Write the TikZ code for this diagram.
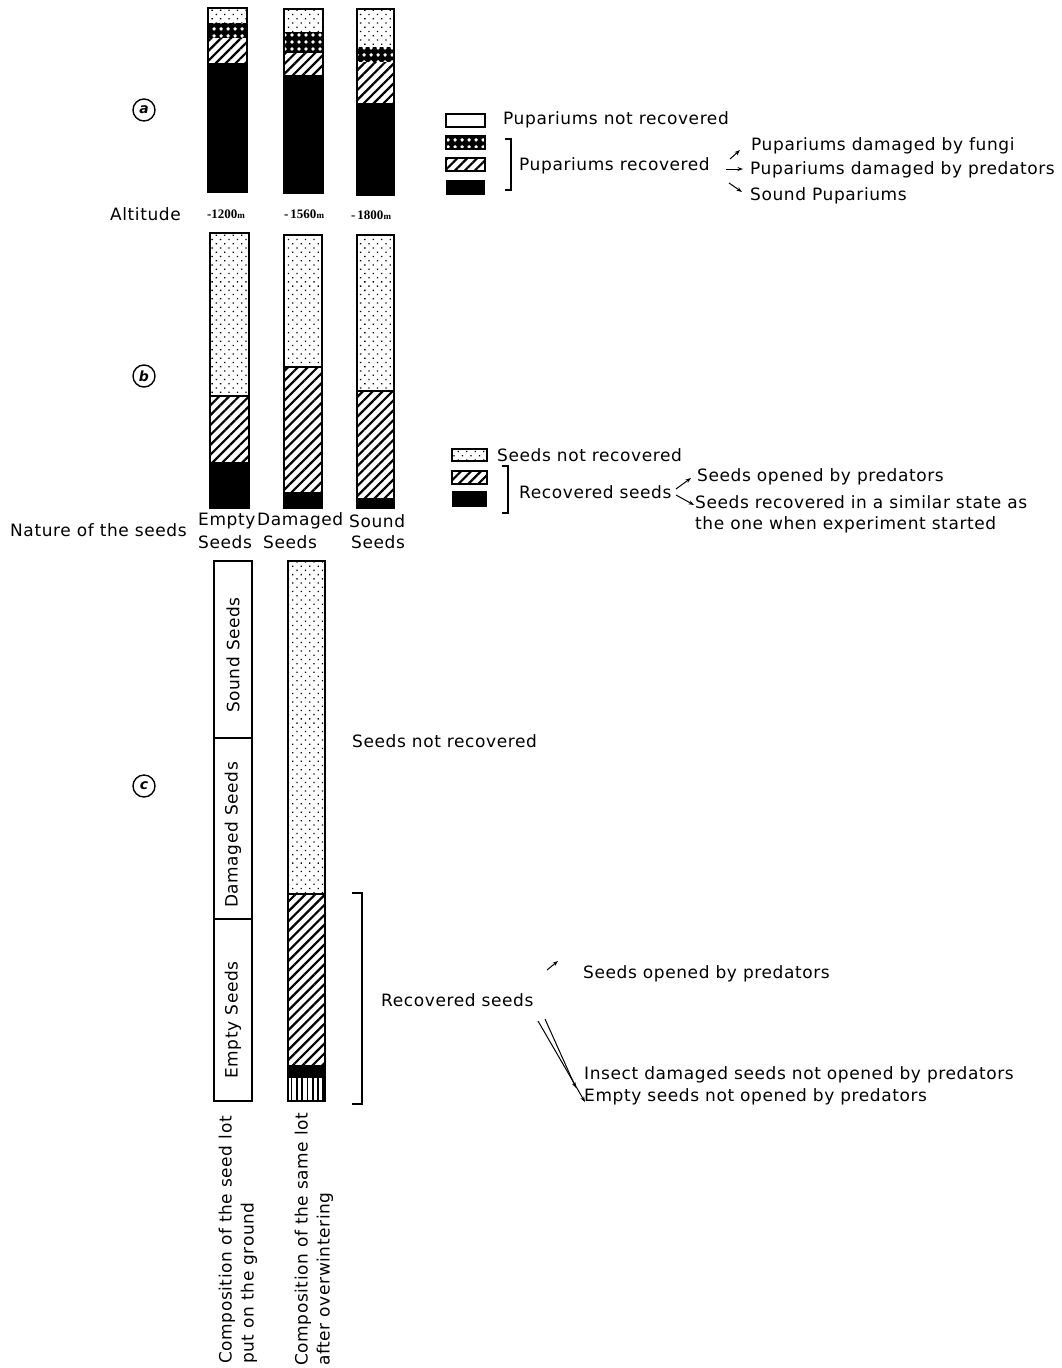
\documentclass[tikz,border=0pt]{standalone}
\usepackage{fontspec}
\setmainfont{DejaVu Sans}[LetterSpace=3.5]
\newfontfamily\altfont{Liberation Serif}
\usetikzlibrary{positioning}
\usetikzlibrary{patterns.meta,arrows.meta}

\tikzset{
  dotfill/.style = {pattern = {Dots[radius=0.9pt, distance=6pt, angle=45]}},
  hatchfill/.style = {pattern = {Lines[angle=45, distance=7pt, line width=2.2pt]}},
  ckfill/.style = {pattern = {Dots[radius=2pt, distance=6.5pt]}, pattern color=white},
  vlinefill/.style = {pattern = {Lines[angle=90, distance=5.3pt, line width=1.8pt]}}
}

\begin{document}
\begin{tikzpicture}[x=1pt, y=-1pt,
  txt/.style = {inner sep=0pt, anchor=west, font=\fontsize{17}{21}\selectfont},
  rot/.style = {txt, rotate=90},
  alt/.style = {inner sep=0pt, font=\altfont\bfseries\fontsize{13}{14}\selectfont},
  bar/.style = {draw, line width=1.8pt},
  keybox/.style = {draw, line width=1.4pt},
  circ/.style = {draw, circle, line width=1.4pt, minimum size=22pt, inner sep=0pt,
    font=\bfseries\itshape\fontsize{14}{14}\selectfont},
  arr/.style = {-{Stealth[length=5.5pt, width=4pt]}, line width=1pt, shorten <=0pt},
  brk/.style = {line width=1.6pt}
]
\useasboundingbox (0,0) rectangle (1061,1368);

% (a) pupariums
\node[circ] (ca) at (144,110) {a};
\foreach \xl/\xr/\ya/\yb/\yc/\yd/\ye in {208/247/8/23/38/63/192, 284/323/9/32/53/75/193, 357/394/9/47/62/103/195} {
  \fill[dotfill] (\xl,\ya) rectangle (\xr,\yb);
  \fill (\xl,\yb) rectangle (\xr,\yc);
  \fill[ckfill] (\xl,\yb) rectangle (\xr,\yc);
  \fill[hatchfill] (\xl,\yc) rectangle (\xr,\yd);
  \fill (\xl,\yd) rectangle (\xr,\ye);
  \draw[bar] (\xl,\ya) rectangle (\xr,\ye);
}
\node[txt] (altitude) at (110,214) {Altitude};
\node[alt] (alta) at (226,214) {-1200{\fontsize{9}{9}\selectfont m}};
\node[alt] (altb) at (304,214) {-\,1560{\fontsize{9}{9}\selectfont m}};
\node[alt] (altc) at (371,215) {-\,1800{\fontsize{9}{9}\selectfont m}};

% key (a)
\draw[keybox] (446,114) rectangle (485,127);
\fill (446,136) rectangle (485,149);
\fill[ckfill] (446,136) rectangle (485,149);
\draw[keybox] (446,136) rectangle (485,149);
\fill[hatchfill] (446,158) rectangle (485,171);
\draw[keybox] (446,158) rectangle (485,171);
\fill (446,180) rectangle (485,195);
\draw[brk] (505,139) -- (511,139) -- (511,190) -- (505,190);
\node[txt] (pnr) at (503,120) {Pupariums not recovered};
\node[txt] (prec) at (519,166) {Pupariums recovered};
\node[txt] (pfun) at (751,146) {Pupariums damaged by fungi};
\node[txt] (ppred) at (750,170) {Pupariums damaged by predators};
\node[txt] (psound) at (750,196) {Sound Pupariums};
\coordinate (pa1) at (730,159);
\coordinate (pa2) at (726,169);
\coordinate (pa3) at (729,183);
\draw[arr] (pa1) -- (740,150);
\draw[arr] (pa2) -- (743,169);
\draw[arr] (pa3) -- (742,192);

% (b) seeds
\node[circ] (cb) at (144,376) {b};
\foreach \xl/\xr/\ya/\yb/\yc/\yd in {210/249/233/396/462/508, 284/322/235/367/492/508, 357/394/235/391/498/508} {
  \fill[dotfill] (\xl,\ya) rectangle (\xr,\yb);
  \fill[hatchfill] (\xl,\yb) rectangle (\xr,\yc);
  \fill (\xl,\yc) rectangle (\xr,\yd);
  \draw[bar] (\xl,\ya) rectangle (\xr,\yd);
  \draw[line width=1.2pt] (\xl,\yb) -- (\xr,\yb);
}
\node[txt] (nature) at (10,530) {Nature of the seeds};
\node[txt] (emptyA) at (198,521) {Empty};
\node[txt] (dmgA) at (257,521) {Damaged};
\node[txt] (soundA) at (349,521) {Sound};
\node[txt] (emptyB) at (198,542) {Seeds};
\node[txt] (dmgB) at (263,542) {Seeds};
\node[txt] (soundB) at (351,542) {Seeds};

% key (b)
\fill[dotfill] (452,449) rectangle (487,461);
\draw[keybox] (452,449) rectangle (487,461);
\fill[hatchfill] (452,471) rectangle (487,484);
\draw[keybox] (452,471) rectangle (487,484);
\fill (452,491) rectangle (487,507);
\draw[brk] (502,466) -- (508,466) -- (508,513) -- (502,513);
\node[txt] (snr) at (497,455) {Seeds not recovered};
\node[txt] (srec) at (519,492) {Recovered seeds};
\node[txt] (sopen) at (697,477) {Seeds opened by predators};
\node[txt, align=left, anchor=north west] (ssame) at (695,495) {Seeds recovered in a similar state as\\the one when experiment started};
\coordinate (sa1) at (676,489);
\coordinate (sa2) at (676,495);
\draw[arr] (sa1) -- (691,478);
\draw[arr] (sa2) -- (694,505);

% (c) overwintering
\node[circ] (cc) at (144,786) {c};
\draw[bar] (214,561) rectangle (252,1101);
\draw[line width=1.3pt] (214,738) -- (252,738);
\draw[line width=1.3pt] (214,919) -- (252,919);
\node[rot, anchor=center] (lsound) at (233,655) {Sound Seeds};
\node[rot, anchor=center] (ldmg) at (233,835) {Damaged Seeds};
\node[rot, anchor=center] (lempty) at (233,1020) {Empty Seeds};

\fill[dotfill] (288,561) rectangle (325,894);
\fill[hatchfill] (288,894) rectangle (325,1065);
\fill (288,1065) rectangle (325,1078);
\fill[vlinefill] (288,1078) rectangle (325,1101);
\draw[bar] (288,561) rectangle (325,1101);
\draw[line width=1.3pt] (288,894) -- (325,894);

\draw[brk] (352,893) -- (362,893) -- (362,1104) -- (352,1104);
\node[txt] (cnr) at (352,741) {Seeds not recovered};
\node[txt] (crec) at (381,1000) {Recovered seeds};
\node[txt] (copen) at (583,974) {Seeds opened by predators};
\node[txt] (cins) at (584,1075) {Insect damaged seeds not opened by predators};
\node[txt] (cempty) at (584,1097) {Empty seeds not opened by predators};
\coordinate (ca1) at (547,970);
\coordinate (ca2) at (545,1019);
\coordinate (ca3) at (538,1021);
\draw[arr] (ca1) -- (558,961);
\draw[arr] (ca2) -- (576,1088);
\draw[arr] (ca3) -- (585,1102);

\node[rot] (comp1) at (227,1364) {Composition of the seed lot};
\node[rot] (comp2) at (249,1364) {put on the ground};
\node[rot] (comp3) at (303,1366) {Composition of the same lot};
\node[rot] (comp4) at (325,1366) {after overwintering};
\end{tikzpicture}
\end{document}
